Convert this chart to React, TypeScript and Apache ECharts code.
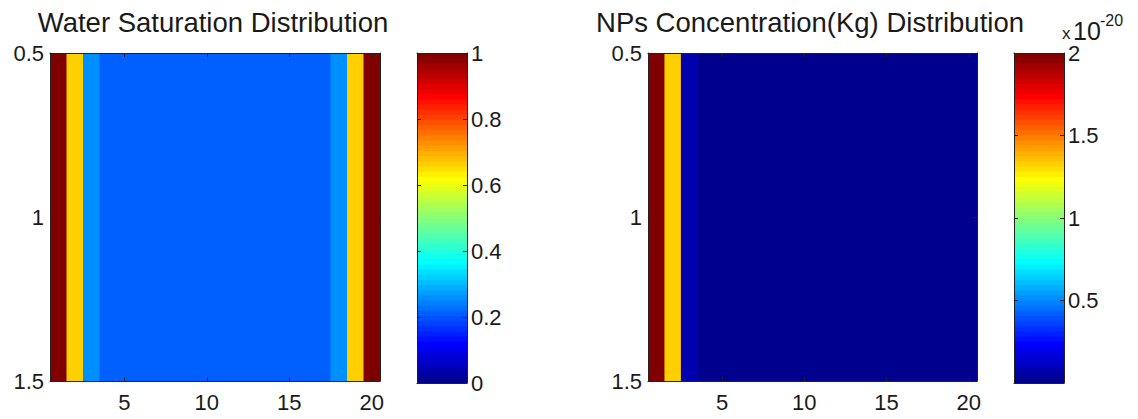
import React, { useEffect, useRef } from "react";
import * as echarts from "echarts";

// ---- data ----
const columns = [1, 2, 3, 4, 5, 6, 7, 8, 9, 10, 11, 12, 13, 14, 15, 16, 17, 18, 19, 20];
const waterSaturation = [1, 0.66, 0.26, 0.21, 0.21, 0.21, 0.21, 0.21, 0.21, 0.21, 0.21, 0.21, 0.21, 0.21, 0.21, 0.21, 0.21, 0.26, 0.66, 1];
// in units of 1e-20 kg
const npConcentration = [2, 1.32, 0.08, 0, 0, 0, 0, 0, 0, 0, 0, 0, 0, 0, 0, 0, 0, 0, 0, 0];
const xTicks = [5, 10, 15, 20];
const yTicks = [0.5, 1, 1.5];
const waterBarTicks = [0, 0.2, 0.4, 0.6, 0.8, 1];
const waterBarRange = [0, 1];
const npBarTicks = [0.5, 1, 1.5, 2];
const npBarRange = [0, 2];
const titles = ["Water Saturation Distribution", "NPs Concentration(Kg) Distribution"];

// ---- MATLAB jet(64) colormap ----
function makeJet(m: number): string[] {
  const n = Math.ceil(m / 4);
  const u: number[] = [];
  for (let i = 1; i <= n; i++) u.push(i / n);
  for (let i = 1; i < n; i++) u.push(1);
  for (let i = n; i >= 1; i--) u.push(i / n);
  const off = Math.ceil(n / 2) - (m % 4 === 1 ? 1 : 0);
  const J = Array.from({ length: m }, () => [0, 0, 0]);
  const g: number[] = [], r: number[] = [], b: number[] = [];
  for (let i = 1; i <= u.length; i++) {
    const gi = off + i;
    if (gi <= m) g.push(gi);
    if (gi + n <= m) r.push(gi + n);
    if (gi - n >= 1) b.push(gi - n);
  }
  r.forEach((idx, k) => (J[idx - 1][0] = u[k]));
  g.forEach((idx, k) => (J[idx - 1][1] = u[k]));
  b.forEach((idx, k) => (J[idx - 1][2] = u[u.length - b.length + k]));
  return J.map(
    (c) =>
      "rgb(" + c.map((v) => Math.round(v * 255)).join(",") + ")"
  );
}
const JET = makeJet(64);
function jetColor(v: number, lo: number, hi: number) {
  const t = (v - lo) / (hi - lo);
  let idx = Math.floor(t * 64);
  if (idx < 0) idx = 0;
  if (idx > 63) idx = 63;
  return JET[idx];
}

const FONT = '"Liberation Sans", Arial, Helvetica, sans-serif';
const TEXT = "#1a1a1a";
const LINE = "#222222";

export default function App() {
  const ref = useRef<HTMLDivElement>(null);
  useEffect(() => {
    if (!ref.current) return;
    const chart = echarts.init(ref.current, undefined, { renderer: "svg" });

    const grids = [
      { left: 50, top: 53, width: 330, height: 328 },
      { left: 417, top: 53, width: 50, height: 330 },
      { left: 648, top: 53, width: 329, height: 328 },
      { left: 1014, top: 53, width: 50, height: 330 },
    ];

    const lineStyle = { color: LINE, width: 1 };
    const labelStyle = { color: TEXT, fontFamily: FONT, fontSize: 22 };

    const plotX = (grid: number, pos: "bottom" | "top") => ({
      type: "value",
      gridIndex: grid,
      position: pos,
      min: 0.5,
      max: 20.5,
      z: 10,
      axisLine: { show: true, onZero: false, lineStyle },
      axisTick: { show: true, inside: true, length: 4, lineStyle, customValues: xTicks },
      axisLabel: pos === "bottom"
        ? { show: true, margin: 10, customValues: xTicks, ...labelStyle }
        : { show: false },
      splitLine: { show: false },
    });
    const plotY = (grid: number, pos: "left" | "right") => ({
      type: "value",
      gridIndex: grid,
      position: pos,
      inverse: true,
      min: 0.5,
      max: 1.5,
      z: 10,
      axisLine: { show: true, onZero: false, lineStyle },
      axisTick: { show: true, inside: true, length: 4, lineStyle, customValues: yTicks },
      axisLabel: pos === "left"
        ? { show: true, margin: 6, customValues: yTicks, ...labelStyle }
        : { show: false },
      splitLine: { show: false },
    });
    const barX = (grid: number, pos: "bottom" | "top") => ({
      type: "value",
      gridIndex: grid,
      position: pos,
      min: 0,
      max: 1,
      z: 10,
      axisLine: { show: true, onZero: false, lineStyle },
      axisTick: { show: false },
      axisLabel: { show: false },
      splitLine: { show: false },
    });
    const barY = (grid: number, pos: "left" | "right", range: number[], ticks: number[]) => ({
      type: "value",
      gridIndex: grid,
      position: pos,
      min: range[0],
      max: range[1],
      z: 10,
      axisLine: { show: true, onZero: false, lineStyle },
      axisTick: {
        show: true,
        inside: true,
        length: 4,
        lineStyle,
        customValues: ticks.filter((t) => t > range[0] && t < range[1]),
      },
      axisLabel: pos === "right"
        ? { show: true, margin: 4, customValues: ticks, ...labelStyle }
        : { show: false },
      splitLine: { show: false },
    });

    const cellSeries = (xi: number, yi: number, values: number[], range: number[]) => ({
      type: "custom",
      xAxisIndex: xi,
      yAxisIndex: yi,
      clip: true,
      silent: true,
      data: values.map((v, i) => [columns[i], 1, v]),
      renderItem: (params: any, api: any) => {
        const x = api.value(0);
        const v = api.value(2);
        const p0 = api.coord([x - 0.5, 0.5]);
        const p1 = api.coord([x + 0.5, 1.5]);
        const c = jetColor(v, range[0], range[1]);
        return {
          type: "rect",
          shape: { x: p0[0], y: p0[1], width: p1[0] - p0[0] + 1.5, height: p1[1] - p0[1] },
          style: { fill: c },
        };
      },
    });

    const barSeries = (xi: number, yi: number, range: number[]) => ({
      type: "custom",
      xAxisIndex: xi,
      yAxisIndex: yi,
      clip: true,
      silent: true,
      data: JET.map((_, i) => [i]),
      renderItem: (params: any, api: any) => {
        const i = api.value(0);
        const lo = range[0] + (i / 64) * (range[1] - range[0]);
        const hi = range[0] + ((i + 1) / 64) * (range[1] - range[0]);
        const p0 = api.coord([0, hi]);
        const p1 = api.coord([1, lo]);
        const c = JET[i];
        return {
          type: "rect",
          shape: { x: p0[0], y: p0[1] - 1.2, width: p1[0] - p0[0], height: p1[1] - p0[1] + 1.2 },
          style: { fill: c },
        };
      },
    });

    chart.setOption({
      animation: false,
      backgroundColor: "#ffffff",
      grid: grids,
      xAxis: [
        plotX(0, "bottom"),
        plotX(0, "top"),
        barX(1, "bottom"),
        barX(1, "top"),
        plotX(2, "bottom"),
        plotX(2, "top"),
        barX(3, "bottom"),
        barX(3, "top"),
      ],
      yAxis: [
        plotY(0, "left"),
        plotY(0, "right"),
        barY(1, "right", waterBarRange, waterBarTicks),
        barY(1, "left", waterBarRange, waterBarTicks),
        plotY(2, "left"),
        plotY(2, "right"),
        barY(3, "right", npBarRange, npBarTicks),
        barY(3, "left", npBarRange, npBarTicks),
      ],
      series: [
        cellSeries(0, 0, waterSaturation, waterBarRange),
        barSeries(2, 2, waterBarRange),
        cellSeries(4, 4, npConcentration, npBarRange),
        barSeries(6, 6, npBarRange),
      ],
      graphic: [
        {
          type: "text",
          x: 213,
          y: 22,
          style: { text: titles[0], fontSize: 27.5, fontFamily: FONT, fill: TEXT, align: "center", verticalAlign: "middle" },
        },
        {
          type: "text",
          x: 810,
          y: 22,
          style: { text: titles[1], fontSize: 27.5, fontFamily: FONT, fill: TEXT, align: "center", verticalAlign: "middle" },
        },
        {
          type: "text",
          x: 1062,
          y: 42,
          style: { text: "x", fontSize: 17, fontFamily: FONT, fill: TEXT, align: "left", verticalAlign: "bottom" },
        },
        {
          type: "text",
          x: 1073,
          y: 43,
          style: { text: "10", fontSize: 25, fontFamily: FONT, fill: TEXT, align: "left", verticalAlign: "bottom" },
        },
        {
          type: "text",
          x: 1100,
          y: 28,
          style: { text: "-20", fontSize: 16, fontFamily: FONT, fill: TEXT, align: "left", verticalAlign: "bottom" },
        },
      ],
    });

    return () => chart.dispose();
  }, []);

  return (
    <div
      ref={ref}
      style={{ position: "absolute", left: 0, top: 0, width: 1138, height: 419, background: "#fff" }}
    />
  );
}
